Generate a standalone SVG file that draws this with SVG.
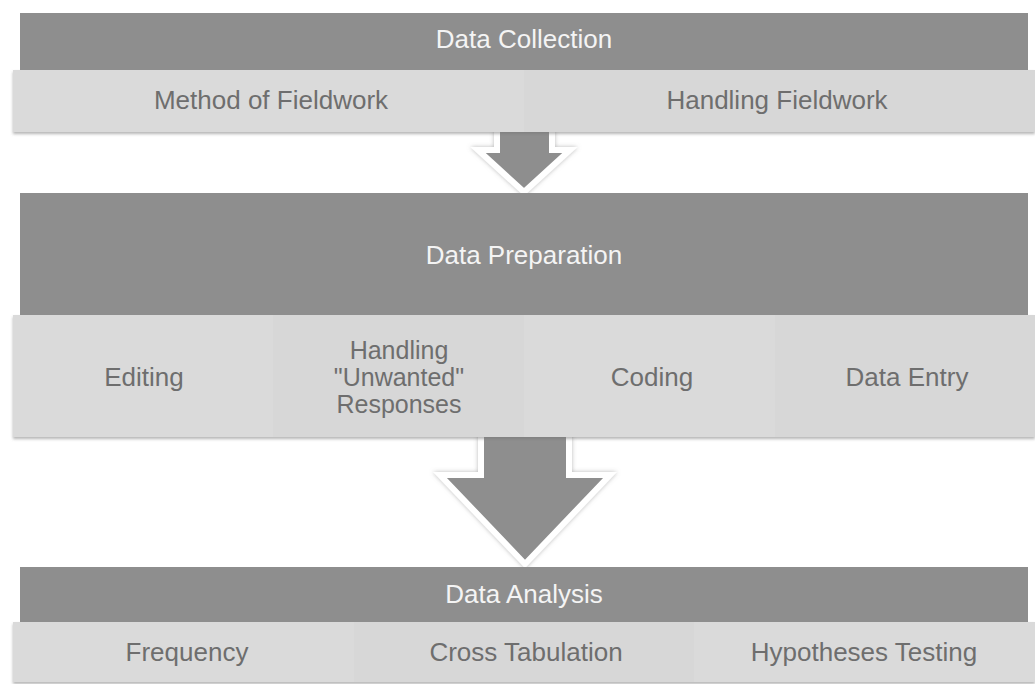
<svg xmlns="http://www.w3.org/2000/svg" width="1035" height="684" viewBox="0 0 1035 684">
  <defs>
    <filter id="shadow" x="-5%" y="-20%" width="110%" height="150%">
      <feDropShadow dx="0" dy="2" stdDeviation="1.5" flood-color="#777777" flood-opacity="0.55"/>
    </filter>
    <filter id="arrowShadow" x="-20%" y="-20%" width="140%" height="140%">
      <feDropShadow dx="0" dy="0" stdDeviation="2" flood-color="#888888" flood-opacity="0.6"/>
    </filter>
  </defs>
  <style>
    .dark { fill: #8e8e8e; }
    .light { fill: #dadada; }
    .lightAlt { fill: #d7d7d7; }
    .head { font-family: "Liberation Sans", Arial, sans-serif; font-size: 26px; fill: #f4f4f4; text-anchor: middle; }
    .sub { font-family: "Liberation Sans", Arial, sans-serif; font-size: 26px; fill: #6e6e6e; text-anchor: middle; }
    .multi { font-size: 25px; }
    .arrow { fill: #8e8e8e; stroke: #ffffff; stroke-width: 6; stroke-linejoin: miter; }
  </style>
  <rect width="1035" height="684" fill="#ffffff"/>

  <g id="connectors">
    <polygon class="arrow" filter="url(#arrowShadow)" points="497,120 552,120 552,150 570,150 524,192 478,150 497,150"/>
    <polygon class="arrow" filter="url(#arrowShadow)" points="481,430 569,430 569,475 610,475 525,564 440,475 481,475"/>
  </g>

  <!-- Stage 1 -->
  <g id="data-collection">
    <rect class="dark" x="20" y="13" width="1008" height="57"/>
    <text class="head" x="524" y="48">Data Collection</text>
  </g>
  <g id="collection-items" filter="url(#shadow)">
    <rect class="light" x="13" y="70" width="1022" height="62"/>
  </g>
  <g id="method-of-fieldwork">
    <rect class="light" x="13" y="70" width="511" height="62"/>
    <text class="sub" x="271" y="109">Method of Fieldwork</text>
  </g>
  <g id="handling-fieldwork">
    <rect class="lightAlt" x="524" y="70" width="511" height="62"/>
    <text class="sub" x="777" y="109">Handling Fieldwork</text>
  </g>

  <!-- Stage 2 -->
  <g id="data-preparation">
    <rect class="dark" x="20" y="193" width="1008" height="122"/>
    <text class="head" x="524" y="264">Data Preparation</text>
  </g>
  <g id="preparation-items" filter="url(#shadow)">
    <rect class="light" x="13" y="315" width="1022" height="122"/>
  </g>
  <g id="editing">
    <rect class="light" x="13" y="315" width="260" height="122"/>
    <text class="sub" x="144" y="386">Editing</text>
  </g>
  <g id="handling-unwanted-responses">
    <rect class="lightAlt" x="273" y="315" width="251" height="122"/>
    <text class="sub multi" x="399" y="359">Handling</text>
    <text class="sub multi" x="399" y="386">"Unwanted"</text>
    <text class="sub multi" x="399" y="413">Responses</text>
  </g>
  <g id="coding">
    <rect class="light" x="524" y="315" width="251" height="122"/>
    <text class="sub" x="652" y="386">Coding</text>
  </g>
  <g id="data-entry">
    <rect class="lightAlt" x="775" y="315" width="260" height="122"/>
    <text class="sub" x="907" y="386">Data Entry</text>
  </g>

  <!-- Stage 3 -->
  <g id="data-analysis">
    <rect class="dark" x="20" y="567" width="1008" height="55"/>
    <text class="head" x="524" y="603">Data Analysis</text>
  </g>
  <g id="analysis-items" filter="url(#shadow)">
    <rect class="light" x="13" y="622" width="1022" height="60"/>
  </g>
  <g id="frequency">
    <rect class="light" x="13" y="622" width="341" height="60"/>
    <text class="sub" x="187" y="661">Frequency</text>
  </g>
  <g id="cross-tabulation">
    <rect class="lightAlt" x="354" y="622" width="340" height="60"/>
    <text class="sub" x="526" y="661">Cross Tabulation</text>
  </g>
  <g id="hypotheses-testing">
    <rect class="light" x="694" y="622" width="341" height="60"/>
    <text class="sub" x="864" y="661">Hypotheses Testing</text>
  </g>
</svg>
